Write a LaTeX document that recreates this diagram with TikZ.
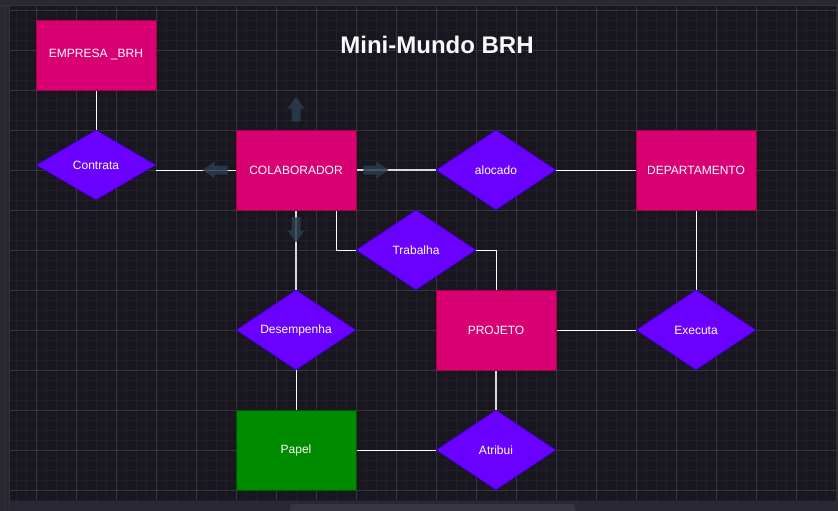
\documentclass[tikz,border=0pt]{standalone}
\usepackage{fontspec}
\setmainfont{Liberation Sans}
\usetikzlibrary{shapes.geometric}
\definecolor{bgdark}{HTML}{18161E}
\definecolor{gridminor}{HTML}{211E28}
\definecolor{gridmajor}{HTML}{38353E}
\definecolor{uiband}{HTML}{2B2833}
\definecolor{uithumb}{HTML}{3A3641}
\definecolor{entfill}{HTML}{D80073}
\definecolor{entdraw}{HTML}{A50040}
\definecolor{relfill}{HTML}{6A00FF}
\definecolor{reldraw}{HTML}{3700CC}
\definecolor{papfill}{HTML}{008A00}
\definecolor{papdraw}{HTML}{005700}
\definecolor{hoverc}{HTML}{2B3D4F}
\pgfdeclarelayer{bg}
\pgfdeclarelayer{edges}
\pgfsetlayers{bg,edges,main}
\tikzset{
  entity/.style={rectangle, fill=entfill, draw=entdraw, line width=0.8pt,
    minimum width=120pt, minimum height=80pt, inner sep=0pt,
    text=white, font=\fontsize{12}{14}\selectfont},
  papelbox/.style={entity, fill=papfill, draw=papdraw},
  relation/.style={diamond, fill=relfill, draw=reldraw, line width=0.6pt,
    minimum width=120pt, minimum height=80pt, inner sep=0pt, aspect=1.5,
    text=white, font=\fontsize{12}{14}\selectfont},
  link/.style={draw=white, line width=0.9pt},
  greylink/.style={draw=white!70!gray, line width=1.4pt},
  hover/.style={fill=hoverc, draw=none, fill opacity=0.85}
}
\begin{document}
\begin{tikzpicture}[x=1pt,y=-1pt]
\useasboundingbox (0,0) rectangle (838,511);
\begin{pgfonlayer}{bg}
  \fill[uiband] (0,0) rectangle (838,511);
  \fill[bgdark] (10,6) rectangle (836,500);
  \foreach \x in {16,26,...,836} \draw[gridminor, line width=0.7pt] (\x,6) -- (\x,500);
  \foreach \y in {20,30,...,500} \draw[gridminor, line width=0.7pt] (10,\y) -- (836,\y);
  \foreach \x in {36,76,...,836} \draw[gridmajor, line width=0.8pt] (\x,6) -- (\x,500);
  \foreach \y in {10,50,...,490} \draw[gridmajor, line width=0.8pt] (10,\y) -- (836,\y);
  \draw[black!80, line width=0.8pt] (9.5,6) -- (9.5,511);
  \draw[black!80, line width=0.8pt] (4.5,6) -- (4.5,511);
  \draw[black!80, line width=0.8pt] (0,5.5) -- (838,5.5);
  \draw[black!80, line width=0.8pt] (836.5,6) -- (836.5,500);
  \fill[uithumb, rounded corners=3pt] (290,504) rectangle (575,514);
\end{pgfonlayer}

\node (title) at (437,45) {\fontsize{24}{28}\selectfont\bfseries\color{white!95!gray}Mini-Mundo BRH};

\node[entity] (empresa) at (96,55) [minimum height=70pt] {EMPRESA \_BRH};
\node[relation] (contrata) at (96,165) [minimum height=70pt] {Contrata};
\node[entity] (colab) at (296,170) {COLABORADOR};
\node[relation] (alocado) at (496,170) {alocado};
\node[entity] (depto) at (696,170) {DEPARTAMENTO};
\node[relation] (trabalha) at (416,250) {Trabalha};
\node[relation] (desemp) at (296,330) {Desempenha};
\node[entity] (projeto) at (496,330) {PROJETO};
\node[relation] (executa) at (696,330) {Executa};
\node[papelbox] (papel) at (296,450) {Papel};
\node[relation] (atribui) at (496,450) {Atribui};

\begin{pgfonlayer}{edges}
  \draw[link] (empresa.south) -- (contrata.north);
  \draw[link] (colab.west) -- (colab.west -| contrata.east);
  \draw[greylink] (colab.east) -- (alocado.west);
  \draw[link] (alocado.east) -- (depto.west);
  \draw[link] ([xshift=-20pt]colab.south east) |- (trabalha.west);
  \draw[link] (trabalha.east) -| (projeto.north);
  \draw[greylink] (colab.south) -- (desemp.north);
  \draw[link] (desemp.south) -- (papel.north);
  \draw[link] (projeto.east) -- (executa.west);
  \draw[link] (depto.south) -- (executa.north);
  \draw[greylink] (projeto.south) -- (atribui.north);
  \draw[link] (papel.east) -- (atribui.west);
\end{pgfonlayer}

% hover arrows around COLABORADOR (y axis points down)
\coordinate (hu) at ([yshift=8pt]colab.north);
\coordinate (hd) at ([yshift=-7pt]colab.south);
\coordinate (hl) at ([xshift=-8pt]colab.west);
\coordinate (hr) at ([xshift=7pt]colab.east);
\fill[hover] ([xshift=-4.5pt]hu) -- ++(0,-13) -- ++(-4,0) -- ++(8.5,-12) -- ++(8.5,12) -- ++(-4,0) -- ++(0,13) -- cycle;
\fill[hover] ([xshift=-4.5pt]hd) -- ++(0,13) -- ++(-4,0) -- ++(8.5,12) -- ++(8.5,-12) -- ++(-4,0) -- ++(0,-13) -- cycle;
\fill[hover] ([yshift=4.5pt]hl) -- ++(-13,0) -- ++(0,-4) -- ++(-12,8.5) -- ++(12,8.5) -- ++(0,-4) -- ++(13,0) -- cycle;
\fill[hover] ([yshift=4.5pt]hr) -- ++(13,0) -- ++(0,-4) -- ++(12,8.5) -- ++(-12,8.5) -- ++(0,-4) -- ++(-13,0) -- cycle;
\end{tikzpicture}
\end{document}
